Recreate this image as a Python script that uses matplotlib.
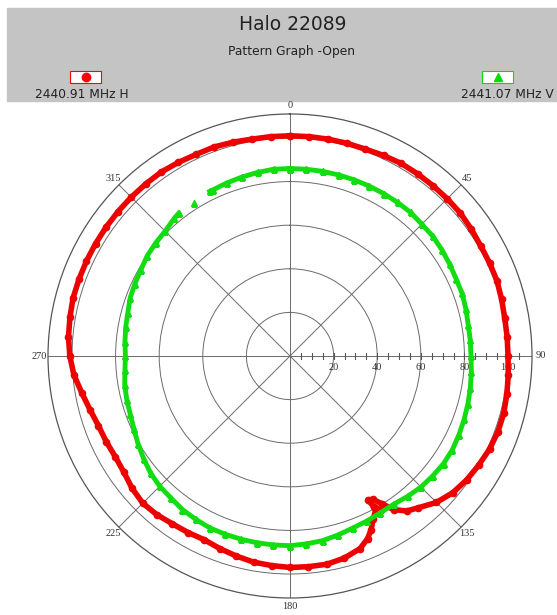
import numpy as np
import matplotlib.pyplot as plt
from matplotlib.patches import Rectangle
from matplotlib.lines import Line2D

# Horizontal polarisation (red), angle in degrees clockwise from top
red_angles = [0, 5, 10, 15, 20, 25, 30, 35, 40, 45, 50, 55, 60, 65, 70, 75, 80, 85,
              90, 95, 100, 105, 110, 115, 120, 125, 130, 135, 140, 143, 146, 148,
              150, 151.5, 151, 149.5, 151, 153, 155, 157, 160, 165, 170, 175, 180,
              185, 190, 195, 200, 205, 210, 215, 220, 225, 230, 235, 240, 245, 250,
              255, 260, 265, 270, 275, 280, 285, 290, 295, 300, 305, 310, 315, 320,
              325, 330, 335, 340, 345, 350, 355, 360]
red_values = [101, 101, 101, 101, 101, 101.5, 102, 102, 102, 102, 102, 101.5, 101, 101,
              101, 100.5, 100, 100, 100, 100.5, 101, 101.5, 101.5, 101, 100, 99, 97.5,
              95, 91, 89, 85, 80, 76, 75, 79, 82, 81, 84, 88, 91, 94, 96, 97, 97, 97,
              96.5, 96, 95, 94, 93, 93.5, 94, 95, 95.5, 94.5, 93, 92.5, 93, 93.5, 95,
              97, 99.5, 101, 102, 102.5, 103, 103, 103, 103, 103, 103, 103, 103, 103,
              102.5, 102, 102, 101.5, 101, 101, 101]

# Vertical polarisation (green); NaN = no sample drawn
green_angles = [0, 5, 10, 15, 20, 25, 30, 35, 40, 45, 50, 55, 60, 65, 70, 75, 80, 85,
                90, 95, 100, 105, 110, 115, 120, 125, 130, 135, 140, 145, 150, 155, 160,
                165, 170, 175, 180, 185, 190, 195, 200, 205, 210, 215, 220, 225, 230,
                235, 240, 245, 250, 255, 260, 265, 270, 275, 280, 285, 290, 295, 300,
                305, 310, 315, 320, 322, 325, 328, 331, 334, 335, 340, 345, 350, 355, 360]
green_values = [86, 86, 86, 86, 86, 86, 86, 86, 86, 85.5, 85.5, 85, 84.5, 84, 84, 83.5,
                83, 83, 83, 83.5, 84, 84.5, 85, 85.5, 86, 86, 85.5, 85, 84, 83, 83, 83.5,
                84, 85, 86, 86.5, 87, 87, 87, 87, 87, 87, 86.5, 86, 85, 84.5, 83.5, 82,
                80.5, 79, 78, 77.5, 77, 76, 75.5, 76, 76.5, 77, 78, 78.5, 79, 80, 80.5,
                81, 82.5, 83, np.nan, 83, np.nan, 84, 84, 84.5, 85, 85.5, 86, 86]

theta_labels = ['0', '45', '90', '135', '180', '225', '270', '315']
rings = [20, 40, 60, 80, 100]
r_max = 111

W, H = 557, 615
fig = plt.figure(figsize=(W / 100, H / 100), dpi=100)

# header band
fig.patches.append(Rectangle((7 / W, 1 - 101 / H), 550 / W, 93 / H,
                             transform=fig.transFigure, color='#c4c4c4', zorder=0))
fig.text(293 / W, 1 - 24 / H, 'Halo 22089', ha='center', va='center',
         fontsize=13.5, color='#222222')
fig.text(291 / W, 1 - 52 / H, 'Pattern Graph -Open', ha='center', va='center',
         fontsize=8.8, color='#222222')

# legend boxes
for (x0, col, mk) in [(70, 'red', 'o'), (482, '#00dd00', '^')]:
    fig.patches.append(Rectangle((x0 / W, 1 - 83 / H), 31 / W, 12 / H,
                                 transform=fig.transFigure, facecolor='white',
                                 edgecolor=col, lw=0.8))
    fig.add_artist(Line2D([(x0 + 15.5) / W], [1 - 77 / H], marker=mk, color=col,
                          ms=6, transform=fig.transFigure))
fig.text(82 / W, 1 - 94 / H, '2440.91 MHz H', ha='center', va='center',
         fontsize=8.8, color='#222222')
fig.text(554 / W, 1 - 94 / H, '2441.07 MHz V', ha='right', va='center',
         fontsize=8.8, color='#222222')

# polar plot: centre (290, 356) px, outer radius 242 px
cy, R = 356, 242
ax = fig.add_axes([(290 - R) / W, (H - cy - R) / H, 2 * R / W, 2 * R / H],
                  projection='polar', zorder=2)
ax.patch.set_alpha(0)
ax.set_theta_zero_location('N')
ax.set_theta_direction(-1)
ax.set_ylim(0, r_max)

ax.set_xticks(np.radians(np.arange(0, 360, 45)))
ax.set_xticklabels(theta_labels, family='Liberation Serif', fontsize=7.5, color='#333')
ax.set_xticks(np.radians(np.arange(0, 360, 5)), minor=True)
ax.tick_params(axis='x', which='both', direction='in', length=4, color='#555', pad=-1)
ax.set_yticks(rings)
ax.set_yticklabels([])
ax.grid(True, color='#6a6a6a', lw=0.7)
ax.spines['polar'].set_color('#555')
ax.spines['polar'].set_linewidth(0.9)

# small ticks along the 90 degree axis
rt = np.arange(5, 110, 5)
ax.plot(np.full(len(rt), np.pi / 2), rt, ls='none', marker='|', ms=5,
        mew=0.8, color='#555')
for r in rings:
    ax.annotate(str(r), (np.pi / 2, r), xytext=(0, -12), textcoords='offset pixels',
                ha='center', va='center', family='Liberation Serif', fontsize=7.5,
                color='#333')

ax.plot(np.radians(red_angles), red_values, color='#ee0000', lw=4, marker='o',
        ms=4.5, zorder=3)
ax.plot(np.radians(green_angles), green_values, color='#11dd11', lw=3.5, marker='^',
        ms=5, zorder=4)

fig.savefig('out.png', dpi=100)
